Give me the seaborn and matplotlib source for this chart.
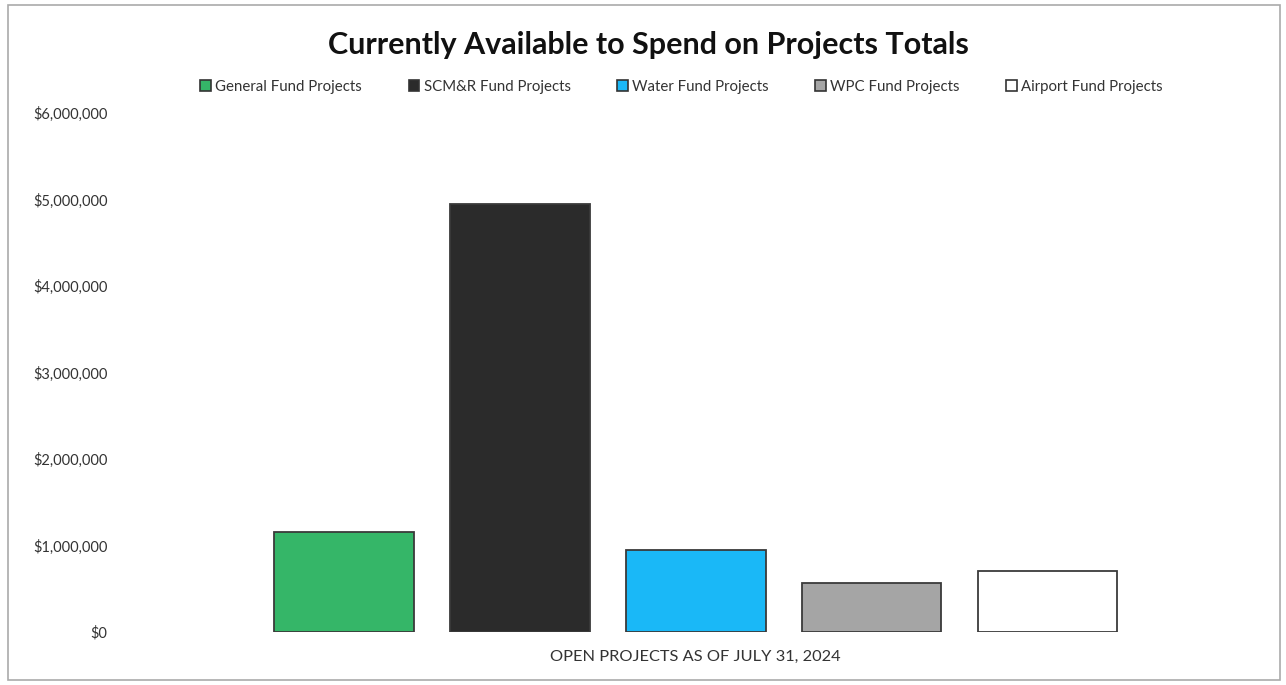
import pandas as pd
import seaborn as sns
import matplotlib
matplotlib.use('Agg')
import matplotlib.pyplot as plt
from matplotlib.patches import Rectangle
from matplotlib.ticker import FuncFormatter

# chart data
funds = ['General Fund Projects', 'SCM&R Fund Projects', 'Water Fund Projects',
         'WPC Fund Projects', 'Airport Fund Projects']
amounts = [1160000, 4950000, 950000, 570000, 700000]
period = 'OPEN PROJECTS AS OF JULY 31, 2024'
fund_colors = ['#35b668', '#2b2b2b', '#1ab8f7', '#a5a5a5', '#ffffff']
y_ticks = [0, 1000000, 2000000, 3000000, 4000000, 5000000, 6000000]

sns.set_theme(style="white")
plt.rcParams['font.family'] = ['Lato', 'DejaVu Sans']

df = pd.DataFrame({'period': [period] * len(funds), 'fund': funds, 'amount': amounts})

fig = plt.figure(figsize=(12.86, 6.85), dpi=100)
ax = fig.add_axes([0.101, 0.0774, 0.880, 0.7577])

sns.barplot(data=df, x='period', y='amount', hue='fund', hue_order=funds,
            palette=fund_colors, saturation=1, width=0.777, gap=0.205, ax=ax,
            edgecolor='#3a3a3a', linewidth=1.3, legend=False)

ax.set_ylim(0, 6000000)
ax.set_yticks(y_ticks)
ax.yaxis.set_major_formatter(FuncFormatter(lambda v, p: f'${v:,.0f}'))
ax.tick_params(axis='y', length=0, pad=16, labelsize=10.5, labelcolor='#333333')
ax.tick_params(axis='x', length=0, pad=13, labelsize=11.8, labelcolor='#333333')
ax.set_xlabel('')
ax.set_ylabel('')
for s in ax.spines.values():
    s.set_visible(False)

# legend with square markers
handles = [Rectangle((0, 0), 1, 1, facecolor=c, edgecolor='#333333', linewidth=1.2)
           for c in fund_colors]
fig.legend(handles, funds, loc='center', bbox_to_anchor=(0.53, 0.873), ncol=5,
           frameon=False, fontsize=10.8, handlelength=0.7, handleheight=0.7,
           handletextpad=0.3, columnspacing=3.1, labelcolor='#333333')

fig.suptitle('Currently Available to Spend on Projects Totals', x=0.504, y=0.955,
             fontsize=22, fontweight='bold', color='#111111')

# outer chart border
fig.patches.append(Rectangle((0.006, 0.007), 0.989, 0.985, transform=fig.transFigure,
                             fill=False, edgecolor='#aaaaaa', linewidth=1.2))

plt.savefig('out.png', dpi=100)
plt.close(fig)
